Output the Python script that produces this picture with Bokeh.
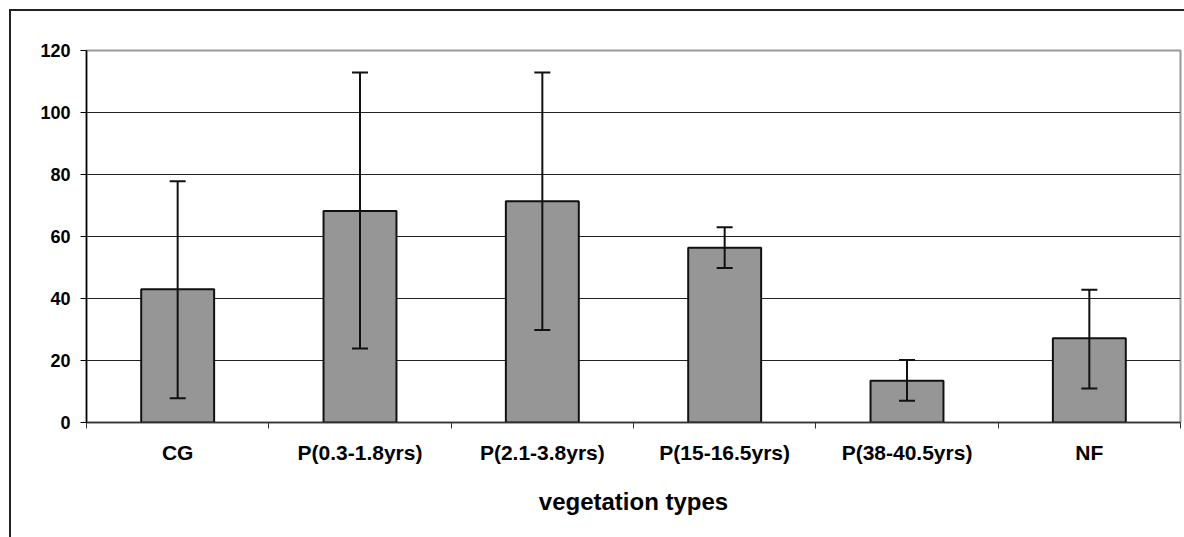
from bokeh.plotting import figure
from bokeh.models import ColumnDataSource, FixedTicker, Whisker, TeeHead, Range1d
from bokeh.embed import file_html
from bokeh.resources import INLINE

categories = ["CG", "P(0.3-1.8yrs)", "P(2.1-3.8yrs)", "P(15-16.5yrs)", "P(38-40.5yrs)", "NF"]
means = [43.0, 68.2, 71.4, 56.4, 13.5, 27.2]
err_low = [7.8, 23.9, 29.8, 49.8, 7.0, 11.0]
err_high = [77.8, 112.9, 112.9, 63.0, 20.2, 42.8]
y_ticks = [0, 20, 40, 60, 80, 100, 120]

xpos = [i + 0.5 for i in range(len(categories))]
src = ColumnDataSource(dict(x=xpos, top=means, lower=err_low, upper=err_high))

# figure is offset by ~11px (outer border drawn with CSS)
p = figure(width=1174, height=526, output_backend="svg", toolbar_location=None,
           x_range=Range1d(0, len(categories)), y_range=Range1d(0, 120),
           min_border_left=75, min_border_right=7, min_border_top=39, min_border_bottom=117)
p.styles = {"border-top": "2px solid #222222", "border-left": "2px solid #222222",
            "margin-left": "9px", "margin-top": "9px", "box-sizing": "content-box"}

p.vbar(x="x", top="top", width=0.4, source=src, fill_color="#969696",
       line_color="#111111", line_width=2)

head = dict(size=16, line_width=2, line_color="#111111")
w = Whisker(source=src, base="x", lower="lower", upper="upper",
            line_width=2, line_color="#111111", level="overlay",
            lower_head=TeeHead(**head), upper_head=TeeHead(**head))
p.add_layout(w)

p.xaxis.ticker = FixedTicker(ticks=xpos, minor_ticks=list(range(len(categories) + 1)))
p.xaxis.major_label_overrides = {x: c for x, c in zip(xpos, categories)}
p.xaxis.major_tick_line_color = None
p.xaxis.minor_tick_out = 6
p.xaxis.minor_tick_in = 0
p.xaxis.minor_tick_line_color = "#333333"
p.xaxis.axis_line_color = "#333333"
p.xaxis.axis_line_width = 1.5
p.xaxis.major_label_standoff = 12
p.xaxis.major_label_text_font = "Liberation Sans"
p.xaxis.major_label_text_font_style = "bold"
p.xaxis.major_label_text_font_size = "21px"
p.xaxis.major_label_text_color = "black"
p.xaxis.axis_label = "vegetation types"
p.xaxis.axis_label_text_font = "Liberation Sans"
p.xaxis.axis_label_text_font_style = "bold"
p.xaxis.axis_label_text_font_size = "24px"
p.xaxis.axis_label_text_color = "black"
p.xaxis.axis_label_standoff = 21

p.yaxis.ticker = FixedTicker(ticks=y_ticks)
p.yaxis.minor_tick_line_color = None
p.yaxis.major_tick_out = 6
p.yaxis.major_tick_in = 0
p.yaxis.major_tick_line_color = "black"
p.yaxis.axis_line_color = "black"
p.yaxis.axis_line_width = 1.5
p.yaxis.major_label_standoff = 10
p.yaxis.major_label_text_font = "Liberation Sans"
p.yaxis.major_label_text_font_style = "bold"
p.yaxis.major_label_text_font_size = "18px"
p.yaxis.major_label_text_color = "black"

p.xgrid.grid_line_color = None
p.ygrid.ticker = FixedTicker(ticks=y_ticks[1:-1])
p.ygrid.grid_line_color = "#222222"
p.ygrid.grid_line_width = 1

p.outline_line_color = "#999999"
p.outline_line_width = 2

p.background_fill_color = "white"
p.border_fill_color = "white"

open("out.html", "w").write(file_html(p, INLINE))
